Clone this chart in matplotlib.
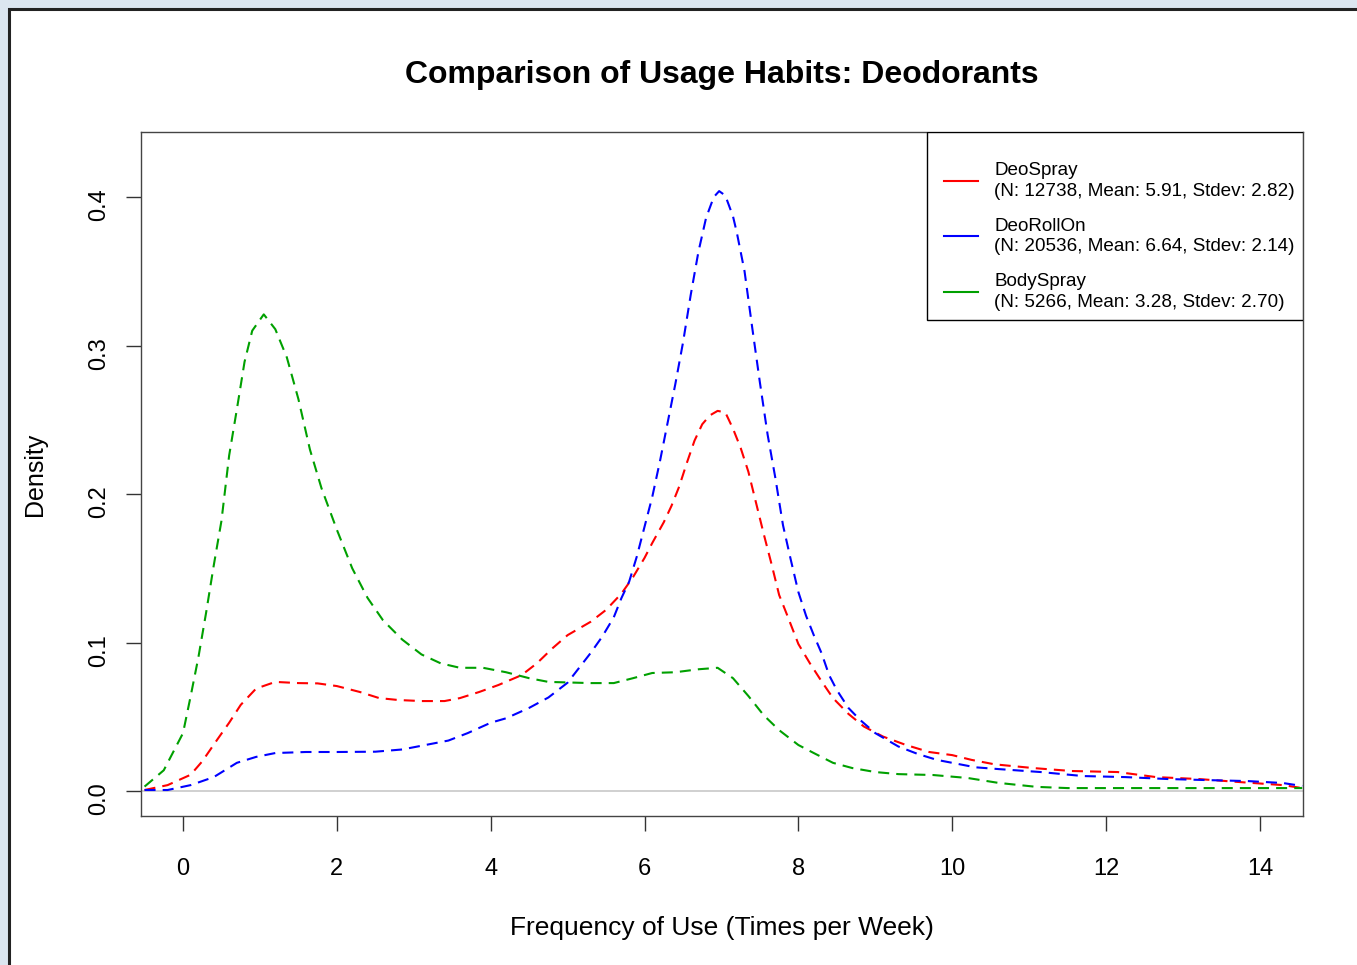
import matplotlib
matplotlib.use("Agg")
import matplotlib.pyplot as plt
from matplotlib.patches import Rectangle

plt.rcParams['font.family'] = ['Liberation Sans', 'DejaVu Sans']

# values
spray_x = [-0.5, -0.2, 0.1, 0.25, 0.45, 0.6, 0.75, 0.95, 1.2, 1.5, 1.75, 2.0, 2.3, 2.55, 2.8, 3.1,
           3.4, 3.6, 3.85, 4.1, 4.4, 4.6, 4.8, 5.0, 5.3, 5.5, 5.7, 5.85, 6.0, 6.1, 6.25, 6.35, 6.45,
           6.55, 6.65, 6.75, 6.85, 6.95, 7.05, 7.15, 7.25, 7.35, 7.45, 7.55, 7.65, 7.75, 7.85, 8.0,
           8.15, 8.3, 8.45, 8.65, 8.85, 9.1, 9.4, 9.7, 10.0, 10.25, 10.55, 11.05, 11.55, 12.15,
           12.65, 13.2, 13.75, 14.3, 14.55]
spray_y = [0.0007, 0.004, 0.011, 0.02, 0.035, 0.046, 0.058, 0.069, 0.0735, 0.0727, 0.0725, 0.0707,
           0.0667, 0.0626, 0.0613, 0.0606, 0.0606, 0.0626, 0.0667, 0.0714, 0.078, 0.086, 0.096,
           0.105, 0.114, 0.122, 0.133, 0.144, 0.157, 0.167, 0.181, 0.192, 0.205, 0.221, 0.236,
           0.247, 0.253, 0.256, 0.255, 0.244, 0.231, 0.215, 0.194, 0.173, 0.153, 0.132, 0.119,
           0.099, 0.086, 0.074, 0.0626, 0.052, 0.0435, 0.0367, 0.031, 0.0263, 0.0242, 0.021, 0.018,
           0.0155, 0.0135, 0.0128, 0.0094, 0.0081, 0.006, 0.004, 0.002]

rollon_x = [-0.5, -0.2, 0.1, 0.4, 0.7, 0.95, 1.2, 1.6, 2.0, 2.5, 2.85, 3.15, 3.45, 3.7, 4.0, 4.2,
            4.5, 4.75, 5.0, 5.15, 5.3, 5.45, 5.6, 5.7, 5.8, 5.9, 6.0, 6.1, 6.2, 6.3, 6.4, 6.5, 6.6,
            6.7, 6.8, 6.9, 6.97, 7.05, 7.15, 7.2, 7.3, 7.4, 7.5, 7.6, 7.7, 7.8, 7.9, 8.0, 8.1, 8.2,
            8.3, 8.4, 8.5, 8.65, 8.8, 9.0, 9.3, 9.55, 9.8, 10.05, 10.3, 10.6, 11.15, 11.7, 12.25,
            12.8, 13.3, 13.85, 14.3, 14.55]
rollon_y = [0.0007, 0.0007, 0.004, 0.0094, 0.019, 0.023, 0.0256, 0.0263, 0.0263, 0.0265, 0.028,
            0.031, 0.034, 0.039, 0.046, 0.049, 0.056, 0.063, 0.073, 0.083, 0.093, 0.104, 0.117,
            0.13, 0.141, 0.158, 0.178, 0.198, 0.222, 0.248, 0.274, 0.302, 0.334, 0.363, 0.386, 0.4,
            0.404, 0.401, 0.387, 0.376, 0.35, 0.312, 0.275, 0.24, 0.211, 0.179, 0.156, 0.134,
            0.118, 0.105, 0.093, 0.078, 0.068, 0.056, 0.048, 0.039, 0.03, 0.025, 0.021, 0.0185,
            0.016, 0.0148, 0.0128, 0.0101, 0.0094, 0.0081, 0.0074, 0.0067, 0.0054, 0.0034]

body_x = [-0.5, -0.25, -0.1, 0.0, 0.1, 0.2, 0.3, 0.4, 0.5, 0.6, 0.7, 0.8, 0.9, 1.05, 1.2, 1.35,
          1.5, 1.65, 1.8, 2.0, 2.2, 2.4, 2.6, 2.85, 3.1, 3.35, 3.6, 3.9, 4.2, 4.5, 4.75, 5.3, 5.6,
          5.85, 6.1, 6.4, 6.7, 6.95, 7.15, 7.35, 7.55, 7.75, 8.0, 8.2, 8.45, 8.7, 9.0, 9.3, 9.75,
          10.2, 10.6, 11.1, 11.5, 12.5, 13.5, 14.55]
body_y = [0.003, 0.014, 0.029, 0.039, 0.064, 0.09, 0.12, 0.152, 0.182, 0.226, 0.257, 0.289, 0.31,
          0.321, 0.311, 0.292, 0.264, 0.23, 0.204, 0.176, 0.15, 0.13, 0.115, 0.102, 0.092, 0.086,
          0.083, 0.083, 0.08, 0.076, 0.0735, 0.0727, 0.0727, 0.076, 0.0795, 0.08, 0.082, 0.083,
          0.076, 0.064, 0.051, 0.041, 0.031, 0.0256, 0.019, 0.0155, 0.0128, 0.0114, 0.0108,
          0.0088, 0.0055, 0.0028, 0.002, 0.002, 0.002, 0.002]

labels = ["DeoSpray\n(N: 12738, Mean: 5.91, Stdev: 2.82)",
          "DeoRollOn\n(N: 20536, Mean: 6.64, Stdev: 2.14)",
          "BodySpray\n(N: 5266, Mean: 3.28, Stdev: 2.70)"]
colors = ["#ff0000", "#0000ff", "#00a000"]

x_ticks = [0, 2, 4, 6, 8, 10, 12, 14]
y_ticks = [0.0, 0.1, 0.2, 0.3, 0.4]

W, H = 1357, 965
fig = plt.figure(figsize=(W / 100, H / 100), dpi=100)
fig.patch.set_facecolor("#dce6f0")
# white panel with dark frame, cut off at right and bottom like the screenshot
fig.patches.append(Rectangle((9 / W, -0.1), 2, 1 - 9 / H + 0.1, transform=fig.transFigure,
                             facecolor="white", edgecolor="#222222", linewidth=2.2, zorder=-5))

ax = fig.add_axes([141 / W, 1 - 816 / H, (1303 - 141) / W, (816 - 132) / H])
ax.set_facecolor("white")

ax.axhline(0, color="#c8c8c8", linewidth=1.2, zorder=1)
series = [(spray_x, spray_y), (rollon_x, rollon_y), (body_x, body_y)]
handles = []
for (xs, ys), c in zip(series, colors):
    ax.plot(xs, ys, color=c, linewidth=1.5, linestyle=(0, (5.3, 3.4)), zorder=2)
    handles.append(plt.Line2D([], [], color=c, linewidth=1.5))

ax.set_xlim(-0.546, 14.56)
ax.set_ylim(-0.0168, 0.4438)
ax.set_xticks(x_ticks)
ax.set_xticklabels([str(t) for t in x_ticks])
ax.set_yticks(y_ticks)
ax.set_yticklabels(["%.1f" % t for t in y_ticks])

for s in ax.spines.values():
    s.set_color("#444444")
    s.set_linewidth(1.0)
ax.tick_params(axis="both", direction="out", length=10.5, width=1.0, color="#333333",
               labelsize=17, labelcolor="black")
ax.tick_params(axis="x", pad=20)
ax.tick_params(axis="y", pad=12, labelrotation=90)

ax.set_title("Comparison of Usage Habits: Deodorants", fontsize=23, fontweight="bold", pad=35)
ax.set_xlabel("Frequency of Use (Times per Week)", fontsize=19, labelpad=26)
ax.set_ylabel("Density", fontsize=18, labelpad=29)

# R-style legend: box drawn separately, entries placed inside it
ax.add_patch(Rectangle((927 / W, 1 - 320 / H), (1303 - 927) / W, (320 - 132) / H,
                       transform=fig.transFigure, facecolor="white", edgecolor="black",
                       linewidth=1.0, zorder=4))
leg = ax.legend(handles, labels, loc="upper left", bbox_to_anchor=(944 / W, 1 - 162 / H),
                bbox_transform=fig.transFigure, borderaxespad=0, borderpad=0,
                fontsize=13.6, frameon=False, handlelength=1.8, handletextpad=0.85,
                labelspacing=0.95)
leg.set_zorder(5)
for t in leg.get_texts():
    t.set_linespacing(1.28)

fig.savefig("out.png", dpi=100, facecolor=fig.get_facecolor())
